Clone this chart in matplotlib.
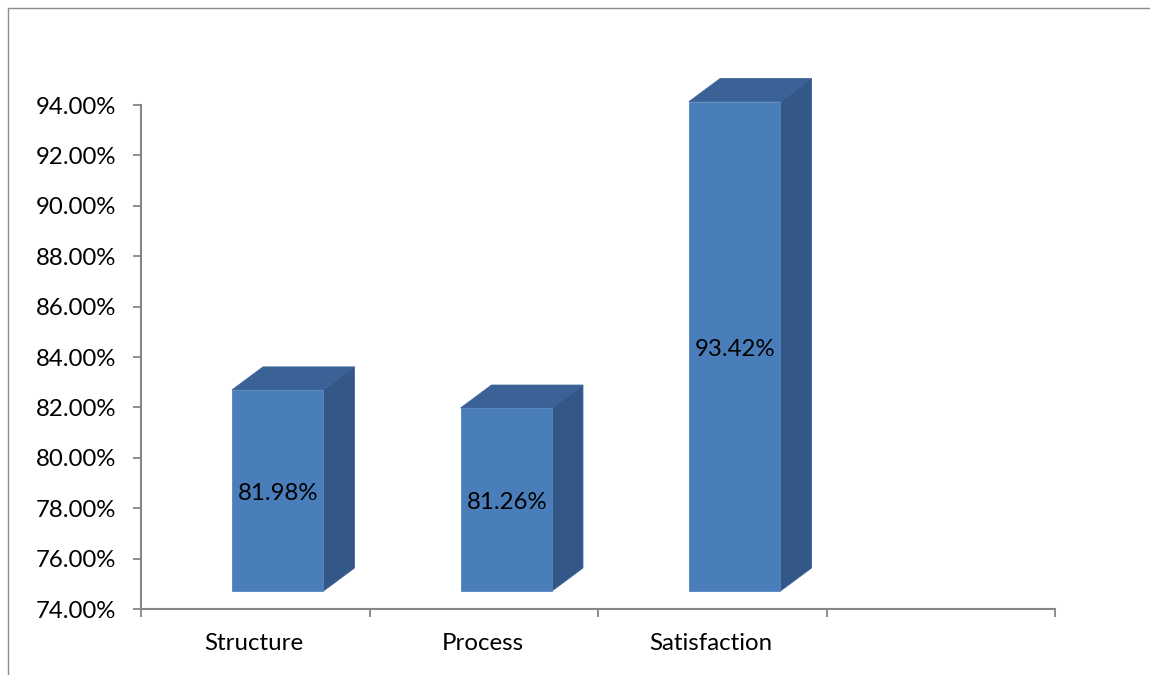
import matplotlib
matplotlib.use("Agg")
import matplotlib.pyplot as plt
from matplotlib.patches import Polygon
from matplotlib.lines import Line2D
from matplotlib.transforms import ScaledTranslation

categories = ["Structure", "Process", "Satisfaction"]
values = [81.98, 81.26, 93.42]
y_ticks = [74, 76, 78, 80, 82, 84, 86, 88, 90, 92, 94]
slots = 4

W, H = 1150, 675
plt.rcParams['font.family'] = ['Lato', 'DejaVu Sans']
fig = plt.figure(figsize=(W / 100, H / 100), dpi=100)
ax = fig.add_axes([141 / W, 1 - 609 / H, (1055 - 141) / W, (609 - 105) / H])
ax.set_xlim(0, slots)
ax.set_ylim(74, 94)

# outer frame of the picture
for xs, ys in (([8 / W, 8 / W], [0, 1 - 8 / H]), ([8 / W, 1], [1 - 8 / H, 1 - 8 / H])):
    fig.add_artist(Line2D(xs, ys, color="#8c8c8c", lw=1.0))

px = 1 / 100  # inch per pixel
def shift(dx, dy):
    return ax.transData + ScaledTranslation(dx * px, dy * px, fig.dpi_scale_trans)

front = shift(22.5, 18)   # front face sits forward of the axis plane
deep_x, deep_y = 31, 23
bar_w = 0.4

centers = [i + 0.5 for i in range(len(categories))]
back = shift(22.5 + deep_x, 18 + deep_y)
for c, v in zip(centers, values):
    l, r = c - bar_w / 2, c + bar_w / 2
    # right side face: built in pixels from the data positions
    p = [front.transform((r, 74)), front.transform((r, v)),
         back.transform((r, v)), back.transform((r, 74))]
    ax.add_patch(Polygon(p, closed=True, transform=None, fc="#335787", ec="#3a5f90", lw=0.6, zorder=2))
    p = [front.transform((l, v)), front.transform((r, v)),
         back.transform((r, v)), back.transform((l, v))]
    ax.add_patch(Polygon(p, closed=True, transform=None, fc="#3a6297", ec="#3a6296", lw=0.6, zorder=2))
ax.bar(centers, [v - 74 for v in values], bottom=74, width=bar_w, color="#4a7ebb",
       edgecolor="#5585bd", linewidth=0.6, transform=front, zorder=3, clip_on=False)
for art in ax.patches:
    art.set_clip_on(False)

for c, v in zip(centers, values):
    ax.annotate(f"{v:.2f}%", xy=(c, (74 + v) / 2), xytext=(23, 15), textcoords="offset pixels",
                ha="center", va="center", fontsize=17.3, color="black", zorder=5)

for s in ("top", "right"):
    ax.spines[s].set_visible(False)
for s in ("left", "bottom"):
    ax.spines[s].set_color("#868686")
    ax.spines[s].set_linewidth(1.5)
ax.set_yticks(y_ticks)
ax.set_yticklabels([f"{t:.2f}%" for t in y_ticks], fontsize=17.3, color="black")
ax.set_xticks(range(slots + 1))
ax.set_xticklabels([])
ax.tick_params(axis="both", color="#868686", width=1.3, length=6, direction="out")
ax.tick_params(axis="y", pad=12)
for c, name in zip(centers, categories):
    ax.annotate(name, xy=(c, 74), xytext=(-1, -35), textcoords="offset pixels",
                ha="center", va="center", fontsize=17.3, color="black")
fig.savefig("out.png", dpi=100)
